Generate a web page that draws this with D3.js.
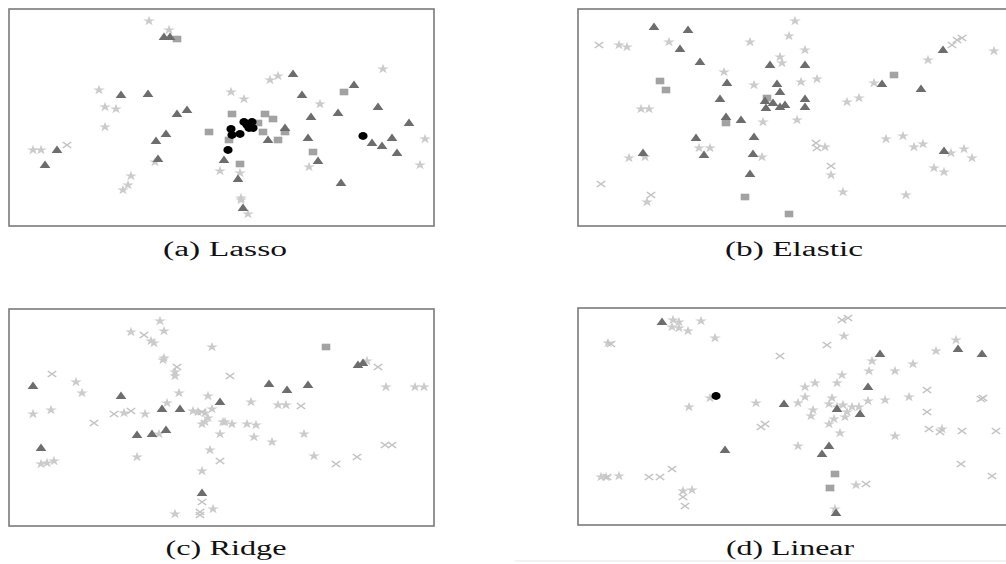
<!DOCTYPE html>
<html><head><meta charset="utf-8">
<script src="https://cdn.jsdelivr.net/npm/d3@7"></script>
<style>html,body{margin:0;padding:0;background:#fff;}svg{display:block;}</style>
</head><body>
<svg id="chart" width="1006" height="564"></svg>
<script>
// Panel titles
const panelTitles = ["(a) Lasso", "(b) Elastic", "(c) Ridge", "(d) Linear"];

// Each point: [x, y] in embedding units (x 0..425, y 0..217)
// ---- (a) Lasso ----
const lassoStar = [[140,205],[160,196],[90,136],[96,119],[107,117],[96,99],[24,76],[32,76],[146,64],[122,50],[119,41],[114,36],[374,157],[269,150],[261,146],[222,134],[235,127],[311,122],[416,87],[300,59],[211,55],[231,53],[411,61],[232,28],[232,26],[239,12]];
const lassoCross = [[58,81]];
const lassoSquare = [[168,187],[200,94],[335,134],[223,112],[256,112],[264,107],[249,103],[254,94],[220,86],[276,94],[269,86],[304,74],[231,62]];
const lassoTriangle = [[155,189],[161,189],[112,131],[139,132],[168,112],[178,116],[157,92],[147,85],[48,76],[36,61],[149,67],[284,152],[345,141],[293,131],[369,119],[302,109],[329,113],[400,103],[276,98],[259,86],[299,88],[363,83],[383,88],[373,80],[388,73],[309,65],[215,66],[229,47],[332,43],[234,18]];
const lassoCircle = [[235,104],[243,104],[240,98],[244,98],[238,101],[222,97],[223,91],[231,92],[219,76],[354,90]];

// ---- (b) Elastic ----
const elasticStar = [[41,181],[49,179],[91,184],[172,184],[211,190],[217,205],[202,169],[204,163],[146,154],[176,141],[63,117],[71,117],[185,104],[121,78],[132,78],[67,69],[51,68],[184,69],[69,24],[227,176],[223,144],[239,147],[219,106],[247,79],[253,51],[265,34],[269,124],[281,128],[296,143],[350,166],[416,175],[308,87],[325,90],[336,79],[345,82],[373,73],[386,77],[394,68],[356,58],[366,54],[328,31]];
const elasticCross = [[21,181],[23,42],[73,31],[238,83],[239,78],[253,60],[374,181],[379,186],[384,188]];
const elasticSquare = [[82,145],[88,136],[189,128],[148,103],[167,29],[211,12],[316,151]];
const elasticTriangle = [[76,199],[110,196],[102,177],[192,161],[122,164],[149,143],[199,142],[202,134],[187,125],[195,123],[202,119],[207,121],[188,118],[142,127],[148,109],[163,106],[118,88],[176,89],[126,71],[65,73],[175,72],[172,52],[227,161],[227,127],[227,119],[304,142],[343,137],[365,176],[366,75]];
const elasticCircle = [];

// ---- (c) Ridge ----
const ridgeStar = [[151,205],[155,195],[122,194],[142,185],[145,183],[203,179],[155,168],[154,166],[166,154],[166,150],[67,144],[73,133],[170,133],[199,130],[158,123],[24,112],[42,116],[115,113],[136,112],[184,115],[189,114],[196,113],[203,117],[199,108],[196,104],[193,102],[214,104],[150,92],[211,92],[128,69],[201,76],[32,62],[38,63],[45,65],[193,55],[166,12],[204,17],[358,165],[377,139],[406,139],[415,139],[242,124],[269,121],[277,121],[216,104],[223,102],[238,102],[247,101],[245,89],[263,84],[295,92],[305,70]];
const ridgeCross = [[135,191],[168,159],[43,152],[105,112],[122,115],[193,114],[85,103],[211,65],[193,24],[191,14],[191,11],[369,159],[221,150],[292,120],[376,81],[383,81],[327,62],[348,69]];
const ridgeSquare = [[317,179]];
const ridgeTriangle = [[24,140],[112,130],[211,124],[153,117],[171,117],[128,91],[143,92],[157,96],[32,78],[193,33],[349,161],[354,163],[260,142],[278,136],[299,141]];
const ridgeCircle = [];

// ---- (d) Linear ----
const linearStar = [[95,205],[101,203],[94,198],[101,197],[110,194],[123,204],[137,187],[30,182],[132,127],[111,118],[178,122],[23,48],[28,48],[41,49],[105,34],[114,35],[266,189],[378,185],[358,174],[294,164],[335,161],[317,154],[291,154],[264,150],[237,142],[259,142],[227,138],[227,128],[254,127],[290,124],[307,125],[331,128],[220,122],[251,121],[259,118],[265,120],[274,118],[281,118],[269,113],[267,108],[235,115],[233,109],[256,106],[251,101],[262,92],[317,89],[364,96],[220,79],[278,40],[257,16]];
const linearCross = [[33,181],[202,169],[183,98],[187,101],[94,56],[71,48],[82,48],[29,48],[105,28],[107,19],[264,205],[270,207],[249,180],[349,135],[403,126],[405,127],[349,113],[351,96],[362,93],[384,94],[418,94],[383,61],[414,49],[288,41],[252,37]];
const linearSquare = [[257,51],[252,37]];
const linearTriangle = [[84,203],[206,121],[147,75],[380,176],[404,171],[302,171],[290,138],[259,116],[282,111],[251,79],[244,71],[258,12]];
const linearCircle = [[138,129]];

const xDomain = [0, 425];
const yDomain = [0, 217];

const panels = [
  {title: panelTitles[0], box: {x: 9, y: 9, w: 425, h: 217}, open: false, cap: {x: 225, y: 256, len: 124},
   star: lassoStar, cross: lassoCross, square: lassoSquare, tri: lassoTriangle, circ: lassoCircle},
  {title: panelTitles[1], box: {x: 578, y: 9, w: 425, h: 217}, open: true, cap: {x: 794, y: 256, len: 138},
   star: elasticStar, cross: elasticCross, square: elasticSquare, tri: elasticTriangle, circ: elasticCircle},
  {title: panelTitles[2], box: {x: 9, y: 309, w: 425, h: 217}, open: false, cap: {x: 226, y: 555, len: 121},
   star: ridgeStar, cross: ridgeCross, square: ridgeSquare, tri: ridgeTriangle, circ: ridgeCircle},
  {title: panelTitles[3], box: {x: 578, y: 308, w: 425, h: 217}, open: true, cap: {x: 790, y: 555, len: 128},
   star: linearStar, cross: linearCross, square: linearSquare, tri: linearTriangle, circ: linearCircle}
];

const svg = d3.select("#chart");

const starPath = d3.symbol().type(d3.symbolStar).size(30)();
const triPath = d3.symbol().type(d3.symbolTriangle).size(32)();
const sqPath = "M-4.3,-3.3H4.3V3.3H-4.3Z";
const crossPath = "M-3.5,-3L3.5,3M-3.5,3L3.5,-3";

panels.forEach(p => {
  const b = p.box;
  const xs = d3.scaleLinear().domain(xDomain).range([b.x, b.x + b.w]);
  const ys = d3.scaleLinear().domain(yDomain).range([b.y + b.h, b.y]);
  const g = svg.append("g");

  g.append("rect").attr("x", b.x).attr("y", b.y)
    .attr("width", p.open ? b.w + 12 : b.w)
    .attr("height", b.h)
    .attr("fill", "#fff").attr("stroke", "#7a7a7a").attr("stroke-width", 1.6);

  const tf = d => `translate(${xs(d[0])},${ys(d[1])}) scale(1.2,1)`;

  g.selectAll("path.star").data(p.star).join("path").attr("class", "star")
    .attr("d", starPath).attr("transform", tf).attr("fill", "#cbcbcb");
  g.selectAll("path.cross").data(p.cross).join("path").attr("class", "cross")
    .attr("d", crossPath).attr("transform", tf).attr("fill", "none")
    .attr("stroke", "#c4c4c4").attr("stroke-width", 1.4);
  g.selectAll("path.sq").data(p.square).join("path").attr("class", "sq")
    .attr("d", sqPath).attr("transform", d => `translate(${xs(d[0])},${ys(d[1])})`).attr("fill", "#a2a2a2");
  g.selectAll("path.tri").data(p.tri).join("path").attr("class", "tri")
    .attr("d", triPath).attr("transform", d => `translate(${xs(d[0])},${ys(d[1]) + 0.5}) scale(1.25,1)`).attr("fill", "#6d6d6d");
  g.selectAll("ellipse.circ").data(p.circ).join("ellipse").attr("class", "circ")
    .attr("cx", d => xs(d[0])).attr("cy", d => ys(d[1]))
    .attr("rx", 4.6).attr("ry", 3.9).attr("fill", "#000");

  g.append("text").attr("x", p.cap.x).attr("y", p.cap.y)
    .attr("text-anchor", "middle")
    .attr("font-family", "'Liberation Serif', 'DejaVu Serif', serif")
    .attr("font-size", 20)
    .attr("textLength", p.cap.len).attr("lengthAdjust", "spacingAndGlyphs")
    .attr("fill", "#111")
    .text(p.title);
});

// faint rule under bottom-right caption
svg.append("line").attr("x1", 515).attr("x2", 1006).attr("y1", 561).attr("y2", 561)
  .attr("stroke", "#e6e6e6").attr("stroke-width", 1);
</script>
</body></html>
